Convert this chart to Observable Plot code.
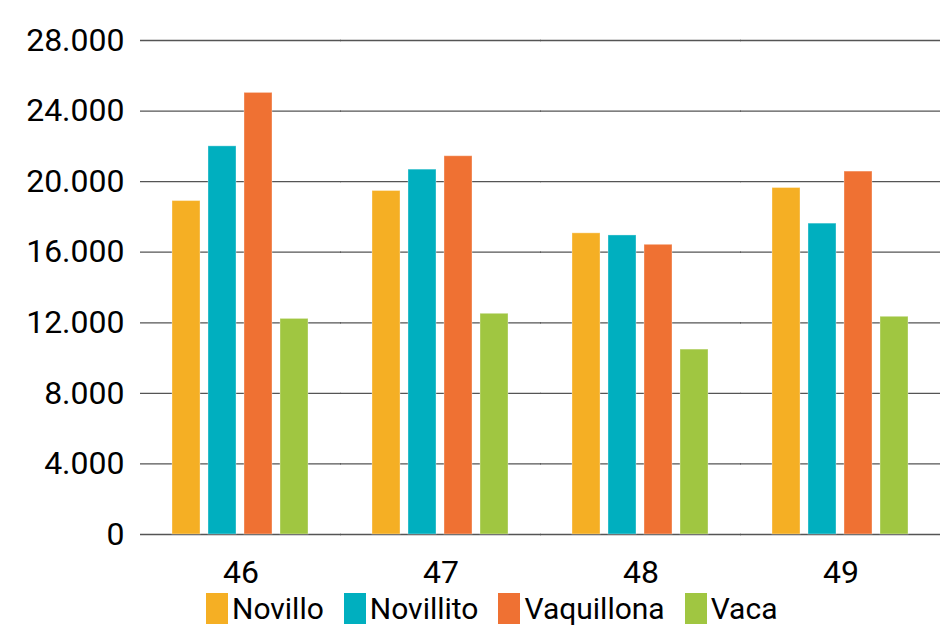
<!DOCTYPE html>
<html>
<head>
<meta charset="utf-8">
<script src="https://cdn.jsdelivr.net/npm/d3@7"></script>
<script src="https://cdn.jsdelivr.net/npm/@observablehq/plot@0.6"></script>
<style>
  html, body { margin: 0; padding: 0; background: #fff; }
  #chart { width: 940px; }
  .legend { display: flex; align-items: center; padding-left: 206px; height: 33px; margin-top: 2px;
    font-family: Roboto, sans-serif; font-size: 30px; color: #000; }
  .legend .item { display: flex; align-items: center; margin-right: 20px; }
  .legend .sw { width: 22px; height: 31px; margin-right: 4px; }
</style>
</head>
<body>
<div id="chart"></div>
<script>
const groups = ["46", "47", "48", "49"];
const series = ["Novillo", "Novillito", "Vaquillona", "Vaca"];
const novillo = [18900, 19470, 17070, 19640];
const novillito = [22000, 20680, 16950, 17620];
const vaquillona = [25030, 21440, 16420, 20570];
const vaca = [12220, 12510, 10480, 12340];
const colors = ["#F5AF24", "#00AFBF", "#EF7133", "#A0C641"];
const yTicks = [0, 4000, 8000, 12000, 16000, 20000, 24000, 28000];

const seriesValues = [novillo, novillito, vaquillona, vaca];
const table = [];
groups.forEach((g, gi) => {
  series.forEach((s, si) => {
    table.push({group: g, series: s, value: seriesValues[si][gi]});
  });
});

const fmt = d3.formatLocale({decimal: ",", thousands: ".", grouping: [3], currency: ["", ""]}).format(",");

const plot = Plot.plot({
  width: 940,
  height: 590,
  marginLeft: 140,
  marginRight: 0,
  marginTop: 40,
  marginBottom: 56,
  style: {fontFamily: "Roboto, sans-serif", fontSize: "32px", color: "#000", background: "#fff"},
  facet: {data: table, x: "group"},
  fx: {domain: groups, axis: "bottom", paddingInner: 0.305, paddingOuter: 0.1525, label: null, tickSize: 0, tickPadding: 26},
  x: {domain: series, axis: null, paddingInner: 0.22, paddingOuter: 0},
  y: {domain: [0, 28000], ticks: yTicks, tickFormat: fmt, tickSize: 0, tickPadding: 47, label: null},
  color: {domain: series, range: colors},
  marks: [
    Plot.ruleY(yTicks, {stroke: "#555", strokeWidth: 1.3, insetLeft: -31, insetRight: -31}),
    Plot.barY(table, {x: "series", y: "value", fill: "series", stroke: "#fff", strokeOpacity: 0.35, strokeWidth: 1})
  ]
});
document.getElementById("chart").appendChild(plot);

const legend = document.createElement("div");
legend.className = "legend";
series.forEach((s, i) => {
  const item = document.createElement("div");
  item.className = "item";
  const sw = document.createElement("div");
  sw.className = "sw";
  sw.style.background = colors[i];
  const t = document.createElement("span");
  t.textContent = s;
  item.appendChild(sw);
  item.appendChild(t);
  legend.appendChild(item);
});
document.getElementById("chart").appendChild(legend);
</script>
</body>
</html>
